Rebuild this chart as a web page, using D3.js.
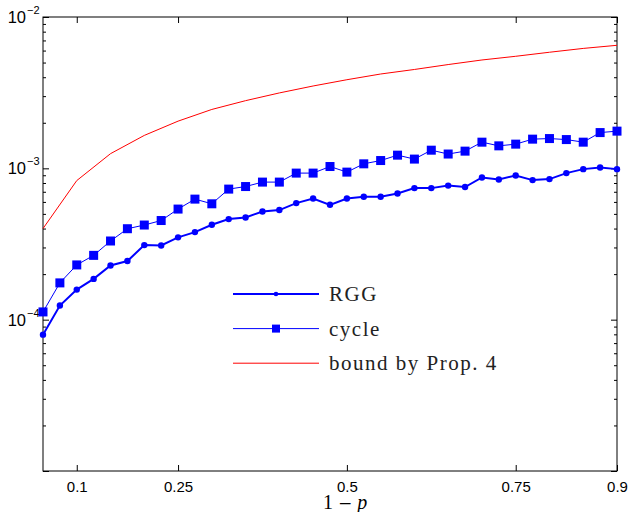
<!DOCTYPE html>
<html>
<head>
<meta charset="utf-8">
<script src="https://cdn.jsdelivr.net/npm/d3@7"></script>
<style>
  body { margin: 0; background: #fff; }
  svg { display: block; }
</style>
</head>
<body>
<svg id="chart"></svg>
<script>
// 1 - p sampled every 0.025 from 0.05 to 0.9
const pValues = [0.05, 0.075, 0.1, 0.125, 0.15, 0.175, 0.2, 0.225, 0.25, 0.275,
  0.3, 0.325, 0.35, 0.375, 0.4, 0.425, 0.45, 0.475, 0.5, 0.525,
  0.55, 0.575, 0.6, 0.625, 0.65, 0.675, 0.7, 0.725, 0.75, 0.775,
  0.8, 0.825, 0.85, 0.875, 0.9];

const rggValues = [7.96e-5, 1.24e-4, 1.58e-4, 1.86e-4, 2.28e-4, 2.44e-4, 3.11e-4, 3.09e-4, 3.50e-4, 3.79e-4,
  4.24e-4, 4.62e-4, 4.73e-4, 5.19e-4, 5.30e-4, 5.89e-4, 6.32e-4, 5.74e-4, 6.32e-4, 6.49e-4,
  6.49e-4, 6.82e-4, 7.40e-4, 7.40e-4, 7.69e-4, 7.52e-4, 8.70e-4, 8.44e-4, 8.97e-4, 8.36e-4,
  8.49e-4, 9.30e-4, 9.88e-4, 1.012e-3, 9.88e-4];

const cycleValues = [1.125e-4, 1.75e-4, 2.30e-4, 2.66e-4, 3.31e-4, 3.99e-4, 4.22e-4, 4.52e-4, 5.38e-4, 6.26e-4,
  5.83e-4, 7.29e-4, 7.58e-4, 8.11e-4, 8.11e-4, 9.30e-4, 9.30e-4, 1.028e-3, 9.44e-4, 1.071e-3,
  1.126e-3, 1.222e-3, 1.151e-3, 1.318e-3, 1.243e-3, 1.299e-3, 1.489e-3, 1.408e-3, 1.445e-3, 1.559e-3,
  1.573e-3, 1.549e-3, 1.489e-3, 1.723e-3, 1.761e-3];

// bound by Prop. 4 (coarser sampling)
const boundP = [0.05, 0.1, 0.15, 0.2, 0.25, 0.3, 0.35, 0.4, 0.45, 0.5,
  0.55, 0.6, 0.65, 0.7, 0.75, 0.8, 0.85, 0.9];
const boundValues = [4.0e-4, 8.3e-4, 1.25e-3, 1.65e-3, 2.05e-3, 2.45e-3, 2.8e-3, 3.15e-3, 3.5e-3, 3.85e-3,
  4.2e-3, 4.5e-3, 4.85e-3, 5.2e-3, 5.5e-3, 5.85e-3, 6.2e-3, 6.5e-3];

const xTicks = [0.1, 0.25, 0.5, 0.75, 0.9];
const yDecades = [1e-5, 1e-4, 1e-3, 1e-2];
// labelled decades (the bottom one carries no label in the original)
const yLabelled = [1e-4, 1e-3, 1e-2];
const yExponents = ["−4", "−3", "−2"];

const W = 631, H = 512;
const margin = { top: 17, right: 14, bottom: 41, left: 43 };
const width = W - margin.left - margin.right,
  height = H - margin.top - margin.bottom;

const svg = d3.select("#chart").attr("width", W).attr("height", H);
const g = svg.append("g").attr("transform", `translate(${margin.left},${margin.top})`);

const x = d3.scaleLinear().domain([0.05, 0.9]).range([0, width]);
const y = d3.scaleLog().domain([1e-5, 1e-2]).range([height, 0]);

// minor ticks for log axis
const minorTicks = [];
yDecades.slice(0, -1).forEach(d => {
  for (let k = 2; k <= 9; k++) minorTicks.push(d * k);
});

const sansFont = "'Liberation Sans', Arial, sans-serif";
const serifFont = "'Liberation Serif', 'Times New Roman', serif";

// bottom / top axes (ticks pointing inward)
const bottomAxis = g.append("g")
  .attr("transform", `translate(0,${height})`)
  .call(d3.axisBottom(x).tickValues(xTicks).tickSizeInner(-6).tickSizeOuter(0).tickFormat(d3.format("")));
bottomAxis.selectAll("text")
  .attr("y", 10)
  .style("font-family", sansFont)
  .style("font-size", "15px")
  .attr("fill", "#000");

g.append("g")
  .call(d3.axisTop(x).tickValues(xTicks).tickSizeInner(-6).tickSizeOuter(0).tickFormat(""));

// left / right axes: major + minor
g.append("g")
  .call(d3.axisLeft(y).tickValues(yDecades).tickSizeInner(-6).tickSizeOuter(0).tickFormat(""));
g.append("g")
  .call(d3.axisLeft(y).tickValues(minorTicks).tickSizeInner(-3).tickSizeOuter(0).tickFormat(""));
g.append("g")
  .attr("transform", `translate(${width},0)`)
  .call(d3.axisRight(y).tickValues(yDecades).tickSizeInner(-6).tickSizeOuter(0).tickFormat(""));
g.append("g")
  .attr("transform", `translate(${width},0)`)
  .call(d3.axisRight(y).tickValues(minorTicks).tickSizeInner(-3).tickSizeOuter(0).tickFormat(""));

g.selectAll(".domain").remove();
g.selectAll(".tick line").attr("stroke", "#000");

// frame
g.append("rect")
  .attr("width", width).attr("height", height)
  .attr("fill", "none").attr("stroke", "#000").attr("stroke-width", 1);

// y tick labels 10^k
const yLab = g.append("g");
yLabelled.forEach((d, i) => {
  yLab.append("text")
    .attr("x", -17).attr("y", y(d) + 6)
    .attr("text-anchor", "end")
    .style("font-family", sansFont).style("font-size", "16.5px")
    .text("10");
  yLab.append("text")
    .attr("x", -16).attr("y", y(d) - 3)
    .attr("text-anchor", "start")
    .style("font-family", sansFont).style("font-size", "11px")
    .text(yExponents[i]);
});

// x axis label
const xl = svg.append("text")
  .attr("x", 345).attr("y", 509)
  .attr("text-anchor", "middle")
  .style("font-family", serifFont).style("font-size", "20px");
xl.append("tspan").text("1");
xl.append("tspan").attr("dx", 5).style("font-family", "'DejaVu Serif', serif").style("font-size", "17px").text("−");
xl.append("tspan").attr("dx", 5).style("font-style", "italic").text("p");

const line = d3.line().x(d => x(d[0])).y(d => y(d[1]));

const rgg = pValues.map((p, i) => [p, rggValues[i]]);
const cycle = pValues.map((p, i) => [p, cycleValues[i]]);
const bound = boundP.map((p, i) => [p, boundValues[i]]);

const plot = g.append("g");

plot.append("path").datum(bound)
  .attr("d", line).attr("fill", "none").attr("stroke", "#ff0000").attr("stroke-width", 1);

plot.append("path").datum(cycle)
  .attr("d", line).attr("fill", "none").attr("stroke", "#0000ff").attr("stroke-width", 1);
plot.selectAll(".sq").data(cycle).enter().append("rect")
  .attr("class", "sq")
  .attr("x", d => x(d[0]) - 4.5).attr("y", d => y(d[1]) - 4.5)
  .attr("width", 9).attr("height", 9)
  .attr("fill", "#0000ff");

plot.append("path").datum(rgg)
  .attr("d", line).attr("fill", "none").attr("stroke", "#0000ff").attr("stroke-width", 2);
plot.selectAll(".dot").data(rgg).enter().append("circle")
  .attr("class", "dot")
  .attr("cx", d => x(d[0])).attr("cy", d => y(d[1]))
  .attr("r", 3.2)
  .attr("fill", "#0000ff");

// legend
const legendItems = [
  { label: "RGG", color: "#0000ff", width: 2, marker: "circle" },
  { label: "cycle", color: "#0000ff", width: 1, marker: "square" },
  { label: "bound by Prop. 4", color: "#ff0000", width: 1, marker: null }
];
const legend = svg.append("g").attr("transform", "translate(233,294)");
legendItems.forEach((item, i) => {
  const row = legend.append("g").attr("transform", `translate(0,${i * 34.6})`);
  row.append("line").attr("x1", 0).attr("x2", 86).attr("y1", 0).attr("y2", 0)
    .attr("stroke", item.color).attr("stroke-width", item.width);
  if (item.marker === "circle") {
    row.append("circle").attr("cx", 43).attr("cy", 0).attr("r", 2.3).attr("fill", item.color);
  } else if (item.marker === "square") {
    row.append("rect").attr("x", 39).attr("y", -4).attr("width", 8).attr("height", 8).attr("fill", item.color);
  }
  row.append("text")
    .attr("x", 96).attr("y", 7)
    .style("font-family", serifFont).style("font-size", "21px")
    .style("letter-spacing", "1.5px")
    .attr("fill", "#222")
    .text(item.label);
});
</script>
</body>
</html>
